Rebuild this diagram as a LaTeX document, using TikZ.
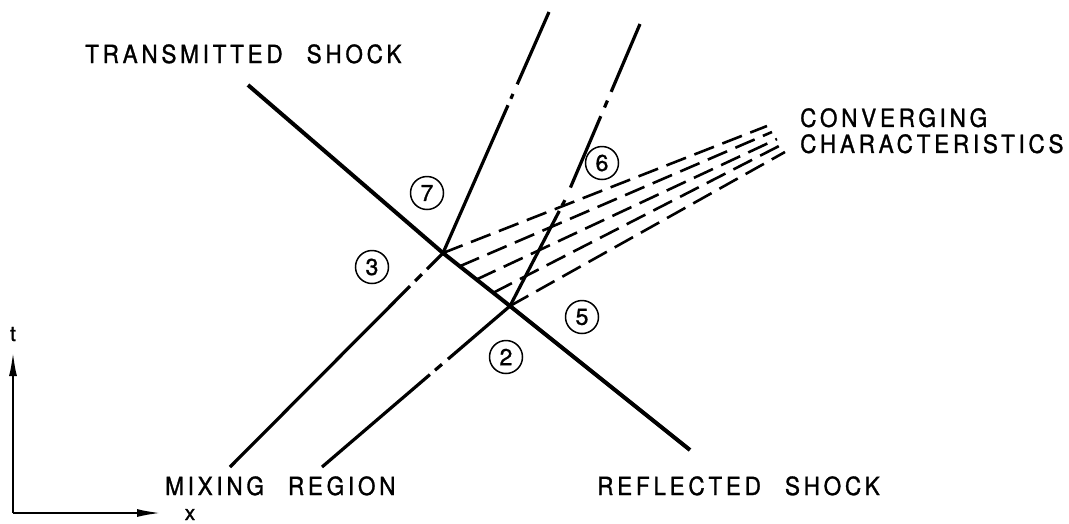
\documentclass[tikz,border=0pt]{standalone}
\usepackage{fontspec}
\setsansfont{TeX Gyre Heros}[LetterSpace=15,FakeStretch=0.9,FakeBold=1.2]
\newfontfamily\digitfont{TeX Gyre Heros}[FakeBold=1.2]
\usetikzlibrary{arrows.meta,calc}
\newcommand\wgap{\hspace{24pt}}
\tikzset{
  >={Latex[length=24pt,width=8pt]},
  shk/.style={line width=4pt},
  ifc/.style={line width=3.2pt},
  chr/.style={line width=2.6pt,dash pattern=on 21pt off 9pt},
  num/.style={circle,draw,line width=1.5pt,minimum size=33pt,inner sep=0pt,font=\digitfont\fontsize{23}{23}\selectfont},
  lab/.style={anchor=base west,inner sep=0pt,font=\sffamily\fontsize{25}{26}\selectfont},
  axl/.style={inner sep=0pt,font=\digitfont\fontsize{21}{21}\selectfont},
  ax/.style={line width=2.2pt},
}
\begin{document}
\begin{tikzpicture}[x=1pt,y=-1pt]
  \useasboundingbox (0,0) rectangle (1069,523);
  % shock and interfaces
  \coordinate (ts) at (248,85);
  \coordinate (A) at (443,253);
  \coordinate (B) at (510,306);
  \coordinate (rs) at (690,450);
  \coordinate (m1) at (230,467);
  \coordinate (u1) at (549,12);
  \coordinate (m2) at (322,467);
  \coordinate (k2) at (566,198);
  \coordinate (u2) at (640,24);
  \draw[shk] (ts) -- (A) -- (B) -- (rs);
  \draw[ifc] (m1) -- ($(m1)!0.845!(A)$) ($(m1)!0.869!(A)$) -- ($(m1)!0.901!(A)$)
    ($(m1)!0.925!(A)$) -- (A) -- ($(A)!0.613!(u1)$) ($(A)!0.64!(u1)$) -- ($(A)!0.66!(u1)$)
    ($(A)!0.70!(u1)$) -- (u1);
  \draw[ifc] (m2) -- ($(m2)!0.574!(B)$) ($(m2)!0.601!(B)$) -- ($(m2)!0.638!(B)$)
    ($(m2)!0.670!(B)$) -- (B) -- ($(B)!0.88!(k2)$) ($(B)!0.93!(k2)$) -- ($(B)!0.98!(k2)$)
    ($(k2)!0.06!(u2)$) -- ($(k2)!0.47!(u2)$) ($(k2)!0.52!(u2)$) -- ($(k2)!0.56!(u2)$)
    ($(k2)!0.61!(u2)$) -- (u2);
  % converging characteristics
  \foreach \i/\f/\ex/\ey in {0/0/767/126,1/0.25/772/132,2/0.5/777/139,3/0.75/781/145,4/1/785/152}{
    \coordinate (c\i) at ($(A)!\f!(B)$);
    \coordinate (e\i) at (\ex,\ey);
    \draw[chr] (c\i) -- (e\i);
  }
  % regions
  \node[num] (n7) at (427,193) {7};
  \node[num] (n3) at (372,267) {3};
  \node[num] (n6) at (602,163) {6};
  \node[num] (n5) at (582,317) {5};
  \node[num] (n2) at (506,357) {2};
  % labels
  \node[lab] (ltr) at (85,63) {TRANSMITTED\wgap SHOCK};
  \node[lab,anchor=north west,align=left] (lcc) at (800,108) {CONVERGING\\CHARACTERISTICS};
  \node[lab] (lmx) at (165,495) {MIXING\wgap REGION};
  \node[lab] (lrf) at (597,495) {REFLECTED\wgap SHOCK};
  % axes
  \coordinate (o) at (13,513);
  \coordinate (ty) at (13,352);
  \coordinate (tx) at (161,513);
  \draw[ax,->] (o) -- (ty);
  \draw[ax,->] (o) -- (tx);
  \node[axl,anchor=base] (lt) at (13,341) {t};
  \node[axl,anchor=base] (lx) at (190,520) {x};
\end{tikzpicture}
\end{document}
